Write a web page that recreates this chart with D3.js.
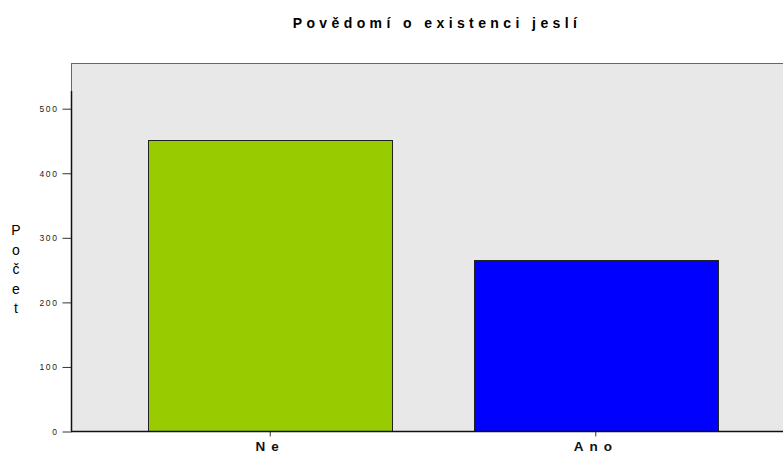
<!DOCTYPE html>
<meta charset="utf-8">
<style>
  body { margin: 0; font-family: 'Liberation Sans', Arial, sans-serif; background: #fff; }
  .title { font-size: 14px; font-weight: bold; letter-spacing: 4.4px; }
  .ytick text { font-size: 8.5px; fill: #222; letter-spacing: 1.6px; }
  .xlab { font-size: 13.5px; font-weight: bold; letter-spacing: 6px; }
  .ylab { font-size: 14px; }
</style>
<body>
<div id="chart"></div>
<script src="https://d3js.org/d3.v7.min.js"></script>
<script>
  // data
  var categories = ["Ne", "Ano"];
  var counts = [450, 265];
  var barColors = ["#99cc00", "#0000ff"];
  var yTicks = [0, 100, 200, 300, 400, 500];

  var W = 783, H = 454;
  var plot = { left: 71, top: 63, right: 795, bottom: 431 };

  var svg = d3.select("#chart").append("svg")
    .attr("width", W)
    .attr("height", H)
    .style("display", "block");

  var x = d3.scaleBand()
    .domain(categories)
    .range([plot.left, plot.right])
    .paddingInner(0.25)
    .paddingOuter(0.237);

  var y = d3.scaleLinear()
    .domain([0, 570])
    .range([plot.bottom, plot.top]);

  // plot background
  svg.append("rect")
    .attr("x", plot.left + 0.5)
    .attr("y", plot.top + 0.5)
    .attr("width", plot.right - plot.left)
    .attr("height", plot.bottom - plot.top)
    .style("fill", "#e8e8e8")
    .style("stroke", "#666")
    .style("stroke-width", 1);

  // bars
  svg.selectAll(".bar")
    .data(categories)
    .enter()
    .append("rect")
    .attr("class", "bar")
    .attr("x", function(d) { return Math.round(x(d)) + 0.5; })
    .attr("y", function(d, i) { return Math.round(y(counts[i])) + 0.5; })
    .attr("width", function(d) { return Math.round(x.bandwidth()); })
    .attr("height", function(d, i) { return Math.round(plot.bottom - y(counts[i])); })
    .style("fill", function(d, i) { return barColors[i]; })
    .style("stroke", "#222")
    .style("stroke-width", 1);

  // y axis
  var yAxis = svg.append("g")
    .attr("class", "ytick")
    .attr("transform", "translate(" + (plot.left + 0.5) + ",0.5)")
    .call(d3.axisLeft(y).tickValues(yTicks).tickSize(9).tickPadding(4));
  yAxis.select(".domain").remove();
  yAxis.selectAll("line").style("stroke", "#333");
  yAxis.selectAll("text").attr("dy", "0.35em");

  svg.append("line")
    .attr("x1", plot.left + 0.5).attr("x2", plot.left + 0.5)
    .attr("y1", 91).attr("y2", plot.bottom)
    .style("stroke", "#111").style("stroke-width", 1.5);

  // x axis
  var xAxis = svg.append("g")
    .attr("transform", "translate(0," + (plot.bottom + 0.5) + ")")
    .call(d3.axisBottom(x).tickSize(5).tickPadding(5));
  xAxis.select(".domain").remove();
  xAxis.selectAll("line").style("stroke", "#333");
  xAxis.selectAll("text").attr("class", "xlab").style("fill", "#111")
    .attr("dy", "0.71em");

  svg.append("line")
    .attr("x1", plot.left).attr("x2", W)
    .attr("y1", plot.bottom + 0.5).attr("y2", plot.bottom + 0.5)
    .style("stroke", "#111").style("stroke-width", 1.5);

  // title
  svg.append("text")
    .attr("class", "title")
    .attr("x", 437)
    .attr("y", 28)
    .attr("text-anchor", "middle")
    .text("Povědomí o existenci jeslí");

  // y label, letters stacked
  var ylab = "Počet".split("");
  svg.selectAll(".ylab")
    .data(ylab)
    .enter()
    .append("text")
    .attr("class", "ylab")
    .attr("x", 16)
    .attr("y", function(d, i) { return 235 + i * 19.5; })
    .attr("text-anchor", "middle")
    .text(function(d) { return d; });
</script>
</body>
